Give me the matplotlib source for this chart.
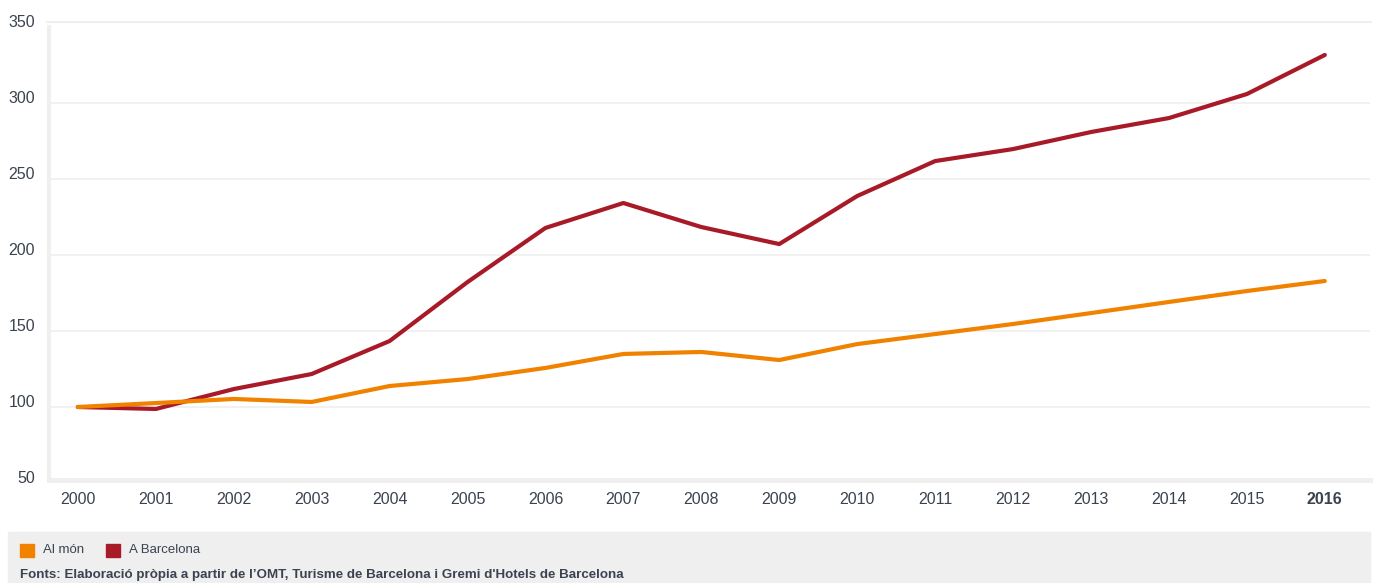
import matplotlib
matplotlib.use("Agg")
import matplotlib.pyplot as plt
import matplotlib.transforms as mtransforms
from matplotlib.patches import Rectangle
from matplotlib.lines import Line2D

years = list(range(2000, 2017))
al_mon = [100, 102.6, 105.3, 103.3, 113.8, 118.4, 125.7, 134.9, 136.2, 130.9,
          141.4, 148.0, 154.6, 161.8, 169.1, 176.3, 182.9]
barcelona = [100, 98.7, 111.8, 121.7, 143.4, 182.2, 217.8, 234.2, 218.4, 207.2,
             238.8, 261.8, 269.7, 280.9, 290.1, 305.9, 331.6]
y_ticks = [50, 100, 150, 200, 250, 300, 350]

ORANGE = "#F08200"
RED = "#A81A28"
TEXT = "#3a4350"
GRID = "#efefef"
W, H = 1377, 583

plt.rcParams["font.family"] = ["Liberation Sans", "DejaVu Sans"]

fig = plt.figure(figsize=(W / 100, H / 100), dpi=100)
ax = fig.add_axes([49 / W, 1 - 483 / H, (1370 - 49) / W, (483 - 27) / H])

ax.plot(years, barcelona, color=RED, linewidth=3.0, solid_capstyle="round", zorder=3)
ax.plot(years, al_mon, color=ORANGE, linewidth=3.0, solid_capstyle="round", zorder=4)

for side in ["top", "right"]:
    ax.spines[side].set_visible(False)
ax.spines["left"].set_color(GRID)
ax.spines["left"].set_linewidth(3)
ax.spines["left"].set_bounds(52, 350)
ax.spines["bottom"].set_color(GRID)
ax.spines["bottom"].set_linewidth(3.5)
ax.spines["bottom"].set_position(("data", 52))

ax.set_xlim(1999.63, 2016.58)
ax.set_ylim(50, 350)
ax.set_yticks(y_ticks)
ax.set_xticks(years)
ax.set_xticklabels([str(y) for y in years])
ax.tick_params(axis="both", length=0, labelsize=11.5, colors=TEXT)
ax.tick_params(axis="y", pad=10)
ax.tick_params(axis="x", pad=9)
ax.get_xticklabels()[-1].set_fontweight("bold")
# y labels sit a little above their gridlines
shift = mtransforms.ScaledTranslation(0, 6 / 100, fig.dpi_scale_trans)
for lab in ax.get_yticklabels():
    lab.set_transform(lab.get_transform() + shift)
ax.grid(axis="y", color=GRID, linewidth=1.2)
ax.get_ygridlines()[-1].set_visible(False)

# thin top border line above the plot
fig.lines.append(Line2D([47 / W, 1371 / W], [1 - 22 / H, 1 - 22 / H],
                        transform=fig.transFigure, color=GRID, linewidth=1.5))

# footer band with legend and source
fig.patches.append(Rectangle((8 / W, 0), (1370 - 8) / W, 51 / H,
                             transform=fig.transFigure, color="#efefef", zorder=0))
leg_y = 1 - 550 / H
fig.patches.append(Rectangle((20 / W, leg_y - 6.5 / H), 14 / W, 13 / H,
                             transform=fig.transFigure, color=ORANGE))
fig.text(43 / W, leg_y, "Al món", fontsize=9.5, color=TEXT, va="center")
fig.patches.append(Rectangle((106 / W, leg_y - 6.5 / H), 14 / W, 13 / H,
                             transform=fig.transFigure, color=RED))
fig.text(129 / W, leg_y, "A Barcelona", fontsize=9.5, color=TEXT, va="center")
fig.text(20 / W, 1 - 575 / H,
         "Fonts: Elaboració pròpia a partir de l\u2019OMT, Turisme de Barcelona i Gremi d'Hotels de Barcelona",
         fontsize=9.6, color=TEXT, fontweight="bold", va="center")

fig.savefig("out.png", dpi=100)
